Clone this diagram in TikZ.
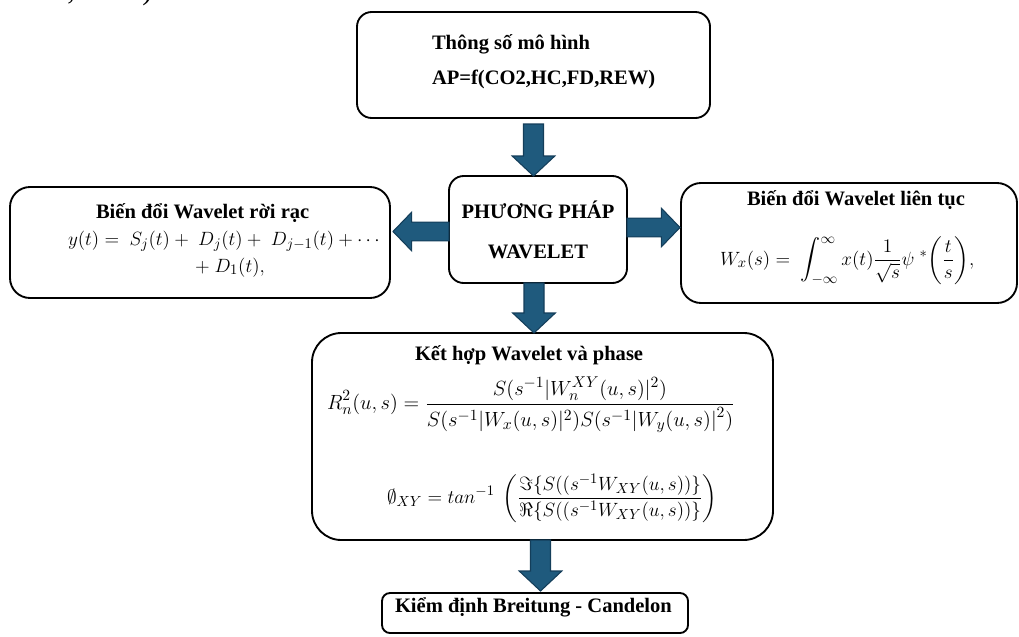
\documentclass[tikz,border=0pt]{standalone}
\usepackage{fontspec}
\setmainfont{Liberation Serif}
\usepackage{amssymb}
\usetikzlibrary{calc}
\definecolor{arrowfill}{RGB}{31,90,125}
\definecolor{arrowline}{RGB}{20,62,90}
\tikzset{
  box/.style={draw=black, line width=1.4pt, inner sep=0pt, outer sep=0pt},
  lbl/.style={inner sep=0pt, outer sep=0pt, anchor=base west, font=\fontsize{15.4}{18}\selectfont\bfseries},
  eq/.style={inner sep=0pt, outer sep=0pt, font=\fontsize{15}{18}\selectfont},
  barrow/.style={fill=arrowfill, draw=arrowline, line width=0.8pt, line join=miter},
}
% block arrow pointing down: shaft top at #1, tip level at #2
\newcommand\downblock[2]{%
  \path[barrow] let \p1=(#1), \p2=(#2) in
    (\x1-7.5pt,\y1) -- (\x1+7.5pt,\y1) -- (\x1+7.5pt,\y2+15pt) -- (\x1+16pt,\y2+15pt)
    -- (\x1,\y2) -- (\x1-16pt,\y2+15pt) -- (\x1-7.5pt,\y2+15pt) -- cycle;}
% horizontal block arrow: shaft start at #1, tip level at #2, direction #3 (1 right, -1 left)
\newcommand\sideblock[3]{%
  \path[barrow] let \p1=(#1), \p2=(#2) in
    (\x1,\y1-7pt) -- (\x1,\y1+7pt) -- (\x2-#3*14pt,\y1+7pt) -- (\x2-#3*14pt,\y1+14.5pt)
    -- (\x2,\y1) -- (\x2-#3*14pt,\y1-14.5pt) -- (\x2-#3*14pt,\y1-7pt) -- cycle;}
\begin{document}
\begin{tikzpicture}[x=0.75pt, y=-0.75pt]
\useasboundingbox (0,0) rectangle (1019,636);
\begin{scope}
  \clip (0,0) rectangle (1019,636);
  \node[inner sep=0pt, anchor=base east, font=\fontsize{22.5}{26}\selectfont] (cap) at (160,-1) {Candelon, 2014).};
\end{scope}

% boxes
\node[box, rounded corners=11pt, minimum width={353*0.75pt}, minimum height={106*0.75pt}] (top) at (533.5,65) {};
\node[box, rounded corners=11pt, minimum width={178*0.75pt}, minimum height={107*0.75pt}] (ctr) at (538,229.5) {};
\node[box, rounded corners=15pt, minimum width={380*0.75pt}, minimum height={111*0.75pt}] (lft) at (200,242.5) {};
\node[box, rounded corners=15pt, minimum width={336*0.75pt}, minimum height={120*0.75pt}] (rgt) at (849,243) {};
\node[box, rounded corners=22pt, minimum width={461*0.75pt}, minimum height={207*0.75pt}] (mid) at (542.5,436.5) {};
\node[box, rounded corners=6pt, minimum width={306*0.75pt}, minimum height={40*0.75pt}] (bot) at (535,613) {};

% texts
\node[lbl] (t1) at (432,49) {Thông số mô hình};
\node[lbl] (t2) at (432,84) {AP=f(CO2,HC,FD,REW)};
\node[lbl, anchor=base] (c1) at (538,218) {PHƯƠNG PHÁP};
\node[lbl, anchor=base] (c2) at (538,258) {WAVELET};
\node[lbl] (l1) at (96,218) {Biến đổi Wavelet rời rạc};
\node[eq, anchor=base west] (l2) at (68,245) {$y(t) =\ S_j(t) +\ D_j(t) +\ D_{j-1}(t) + \cdots$};
\node[eq, anchor=base west] (l3) at (195,272) {$+\ D_1(t),$};
\node[lbl] (r1) at (747,205) {Biến đổi Wavelet liên tục};
\node[eq, anchor=base west] (r2) at (720,265) {$W_x(s) =\ \displaystyle\int_{-\infty}^{\infty} x(t)\frac{1}{\sqrt{s}}\psi\ {}^{*}\!\left(\frac{t}{s}\right)\!,$};
\node[lbl] (m1) at (415,360) {Kết hợp Wavelet và phase};
\node[eq, anchor=west] (m2) at (327,405) {\scalebox{1.07}{$\displaystyle R_n^2(u,s) = \frac{S(s^{-1}|W_n^{XY}(u,s)|^2)}{S(s^{-1}|W_x(u,s)|^2)S(s^{-1}\bigl|W_y(u,s)\bigr|^2)}$}};
\node[eq, anchor=west] (m3) at (387,498) {$\displaystyle \emptyset_{XY} = tan^{-1}\ \left(\frac{\Im\{S(\bigl(s^{-1}W_{XY}(u,s)\bigr)\}}{\Re\{S(\bigl(s^{-1}W_{XY}(u,s)\bigr)\}}\right)$};
\node[lbl] (b1) at (395,612) {Kiểm định Breitung - Candelon};

% block arrows between boxes
\coordinate (a1) at ($(top.south)+(0,6)$);
\downblock{a1}{ctr.north}
\coordinate (a2) at ($(ctr.south)+(-4,0)$);
\downblock{a2}{mid.north}
\coordinate (a3) at ($(mid.south)+(-2,0)$);
\coordinate (a3t) at ($(bot.north)+(0,-2)$);
\downblock{a3}{a3t}
\coordinate (al) at ($(ctr.west)+(0,2)$);
\coordinate (alt) at ($(lft.east)+(3,0)$);
\sideblock{al}{alt}{-1}
\coordinate (ar) at ($(ctr.east)+(0,-2)$);
\coordinate (art) at ($(rgt.west)+(-1,0)$);
\sideblock{ar}{art}{1}
\end{tikzpicture}
\end{document}
